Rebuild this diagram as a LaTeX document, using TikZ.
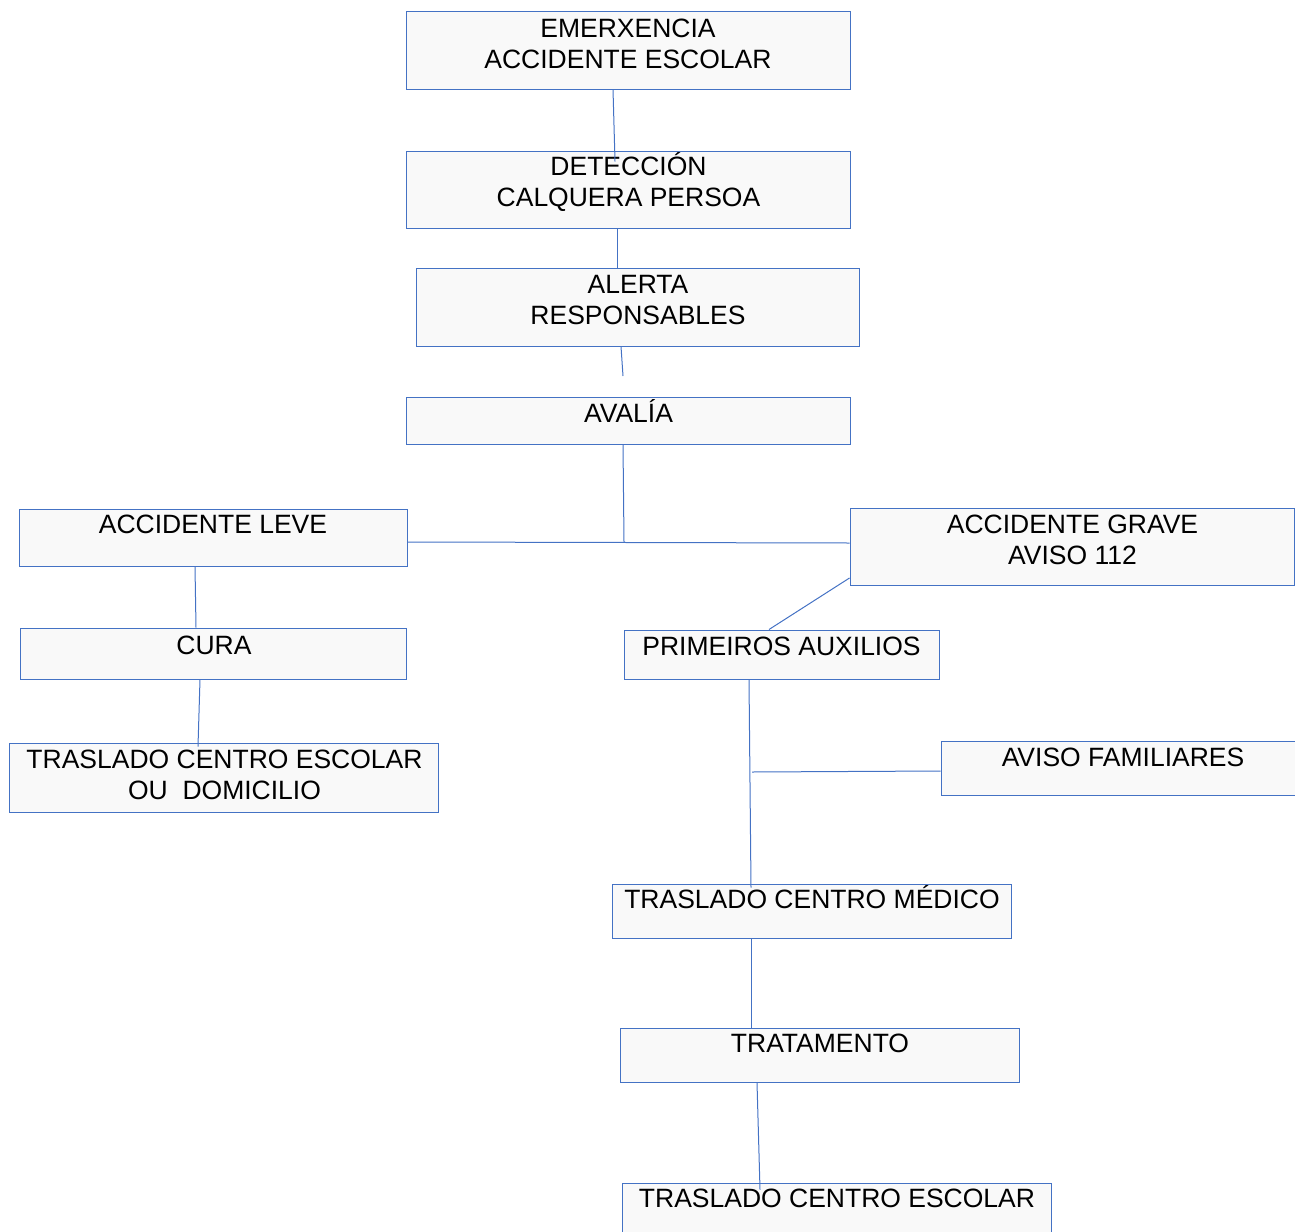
\documentclass[tikz,border=0pt]{standalone}
\usepackage{fontspec}
\setmainfont{Liberation Sans}
\definecolor{boxblue}{HTML}{4472C4}
\definecolor{boxfill}{HTML}{F9F9F9}
\begin{document}
\begin{tikzpicture}[x=1pt,y=-1pt,
  box/.style={draw=boxblue, fill=boxfill, line width=1pt, inner sep=0pt, rectangle},
  txt/.style={inner sep=0pt, anchor=base, align=center, font=\fontsize{26.5}{31}\selectfont},
  conn/.style={draw=boxblue, line width=1pt}]
\useasboundingbox (0,0) rectangle (1295,1231);
% boxes
\node[box, minimum width=444, minimum height=77] (n1) at (628,50.5) {};
\node[box, minimum width=444, minimum height=77] (n2) at (628,189.5) {};
\node[box, minimum width=443, minimum height=78] (n3) at (637.5,307) {};
\node[box, minimum width=444, minimum height=47] (n4) at (628,420.5) {};
\node[box, minimum width=388, minimum height=57] (n5) at (213,537.5) {};
\node[box, minimum width=444, minimum height=77] (n6) at (1072,546.5) {};
\node[box, minimum width=386, minimum height=51] (n7) at (213,653.5) {};
\node[box, minimum width=429, minimum height=69] (n8) at (223.5,777.5) {};
\node[box, minimum width=315, minimum height=49] (n9) at (781.5,654.5) {};
\node[box, minimum width=360, minimum height=54] (n10) at (1121,768) {};
\node[box, minimum width=399, minimum height=54] (n11) at (811.5,911) {};
\node[box, minimum width=399, minimum height=54] (n12) at (819.5,1055) {};
\node[box, minimum width=429, minimum height=57] (n13) at (836.5,1211.5) {};
% texts (anchor=base is the baseline of the last line)
\node[txt] (t1) at (628,68.5) {EMERXENCIA\\ACCIDENTE ESCOLAR};
\node[txt] (t2) at (628.5,206.5) {DETECCIÓN\\CALQUERA PERSOA};
\node[txt] (t3) at (638,324.5) {ALERTA\\RESPONSABLES};
\node[txt] (t4) at (628.5,422.5) {AVALÍA};
\node[txt] (t5) at (213,533.5) {ACCIDENTE LEVE};
\node[txt] (t6) at (1072.5,564.5) {ACCIDENTE GRAVE\\AVISO 112};
\node[txt] (t7) at (214,654.5) {CURA};
\node[txt] (t8) at (224.5,799.5) {TRASLADO CENTRO ESCOLAR\\OU\ \ DOMICILIO};
\node[txt] (t9) at (781.5,655.5) {PRIMEIROS AUXILIOS};
\node[txt] (t10) at (1123,766.5) {AVISO FAMILIARES};
\node[txt] (t11) at (812,908.5) {TRASLADO CENTRO MÉDICO};
\node[txt] (t12) at (820,1052.5) {TRATAMENTO};
\node[txt] (t13) at (837,1207.5) {TRASLADO CENTRO ESCOLAR};
% connectors
\coordinate (c3) at (623,376);
\coordinate (j1) at (624,542);
\coordinate (j2) at (752,772);
\draw[conn] ([xshift=-15]n1.south) -- ([xshift=-13,yshift=-11]n2.north);
\draw[conn] ([xshift=-11]n2.south) -- ([xshift=-20.5]n3.north);
\draw[conn] ([xshift=-16.5]n3.south) -- (c3);
\draw[conn] ([xshift=-5]n4.south) -- (j1);
\draw[conn] ([yshift=-4.5]n5.east) -- ([yshift=3.5]n6.west);
\draw[conn] ([xshift=-18]n5.south) -- ([xshift=-17]n7.north);
\draw[conn] ([xshift=-13]n7.south) -- ([xshift=-25.5,yshift=-4]n8.north);
\draw[conn] ([yshift=-31.5]n6.west) -- ([xshift=-12.5]n9.north);
\draw[conn] ([xshift=-32.5]n9.south) -- ([xshift=-60.5,yshift=-4]n11.north);
\draw[conn] ([yshift=-3]n10.west) -- (j2);
\draw[conn] ([xshift=-60.5]n11.south) -- ([xshift=-68.5]n12.north);
\draw[conn] ([xshift=-62.5]n12.south) -- ([xshift=-76.5,yshift=-7]n13.north);
\end{tikzpicture}
\end{document}
